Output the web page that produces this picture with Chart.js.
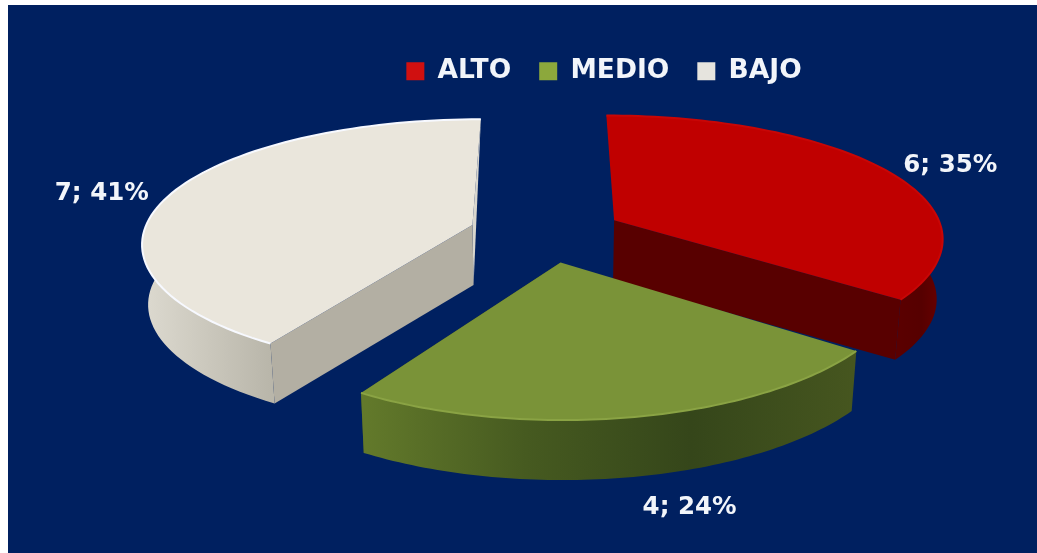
<!DOCTYPE html>
<html>
<head>
<meta charset="utf-8">
<title>Nivel</title>
<script src="https://cdn.jsdelivr.net/npm/chart.js@4/dist/chart.umd.min.js"></script>
<style>
    html, body { margin: 0; padding: 0; background: #fff; }
    #wrap { position: absolute; left: 8px; top: 5px; width: 1029px; height: 548px; background: #002060; overflow: hidden; }
    #pieChart { filter: blur(0.6px); }
</style>
</head>
<body>
<div id="wrap"><canvas id="pieChart"></canvas></div>
<script>
// Chart data
const categories = ['ALTO', 'MEDIO', 'BAJO'];
const values = [6, 4, 7];
const topColors = ['#C00000', '#7A9338', '#EAE6DC'];
const edgeColors = ['#C80606', '#8AA344', '#F7F9FF'];
const faceColors = ['#580000', '#3F5020', '#B3AFA3'];
const wallStops = [
    ['#5A0000', '#560000', '#6A0000'],
    ['#637A2B', '#465A20', '#35461A', '#46561F'],
    ['#DDDAD0', '#B9B6AA']
];

// Fake 3D view of the flat pie (Chart.js has no 3D mode)
const CENTER_X = 538;
const CENTER_Y = 228;
const STRETCH_X = 329;
const STRETCH_Y = 124;
const PERSPECTIVE_X = 0.13;
const PERSPECTIVE_Y = 0.15;
const DEPTH = 60;
const LABEL_SHIFT = [[65, -4], [55, 91], [-70, 1]];

function project(px, py, radius) {
    const u = px / radius;
    const v = py / radius;
    return {
        x: CENTER_X + STRETCH_X * u / (1 - PERSPECTIVE_X * v),
        y: CENTER_Y + STRETCH_Y * v / (1 - PERSPECTIVE_Y * v)
    };
}

function lower(p) {
    return { x: CENTER_X + (p.x - CENTER_X) * 0.985, y: p.y + DEPTH };
}

function fillPoly(ctx, pts, style) {
    ctx.beginPath();
    pts.forEach((p, i) => (i ? ctx.lineTo(p.x, p.y) : ctx.moveTo(p.x, p.y)));
    ctx.closePath();
    ctx.fillStyle = style;
    ctx.fill();
}

function sliceGeometry(arc) {
    const radius = arc.outerRadius;
    const mid = (arc.startAngle + arc.endAngle) / 2;
    const explode = (arc.options.offset || 0) / 4;
    const ox = Math.cos(mid) * explode;
    const oy = Math.sin(mid) * explode;
    const rim = [];
    const steps = 80;
    for (let i = 0; i <= steps; i++) {
        const a = arc.startAngle + (arc.endAngle - arc.startAngle) * i / steps;
        rim.push(project(ox + radius * Math.cos(a), oy + radius * Math.sin(a), radius));
    }
    return {
        apex: project(ox, oy, radius),
        rim: rim,
        label: project(ox + radius * Math.cos(mid), oy + radius * Math.sin(mid), radius)
    };
}

const pie3d = {
    id: 'pie3d',
    beforeDatasetsDraw(chart) {
        const ctx = chart.ctx;
        const arcs = chart.getDatasetMeta(0).data;

        // back to front: BAJO, ALTO, MEDIO
        [2, 0, 1].forEach((i) => {
            const g = sliceGeometry(arcs[i]);
            const first = g.rim[0];
            const last = g.rim[g.rim.length - 1];

            if (i === 2) {
                // thin sliver of the 12 o'clock face, then the long cut face
                fillPoly(ctx, [last, g.apex, lower(g.apex)], '#D8D6CE');
                fillPoly(ctx, [g.apex, first, lower(first), lower(g.apex)], faceColors[i]);
            } else {
                fillPoly(ctx, [g.apex, last, lower(last), lower(g.apex)], faceColors[i]);
            }

            // only the part of the rim wall facing the viewer
            const front = g.rim.filter(p => p.y > g.apex.y - 20);
            const xs = front.map(p => p.x);
            const grad = ctx.createLinearGradient(Math.min(...xs), 0, Math.max(...xs), 0);
            wallStops[i].forEach((c, k) => grad.addColorStop(k / (wallStops[i].length - 1), c));
            fillPoly(ctx, front.concat(front.map(lower).reverse()), grad);

            fillPoly(ctx, [g.apex].concat(g.rim), topColors[i]);

            ctx.beginPath();
            g.rim.forEach((p, k) => (k ? ctx.lineTo(p.x, p.y) : ctx.moveTo(p.x, p.y)));
            ctx.strokeStyle = edgeColors[i];
            ctx.lineWidth = 2;
            ctx.stroke();
        });

        // value labels
        const total = values.reduce((a, b) => a + b, 0);
        ctx.font = 'bold 24.5px "DejaVu Sans"';
        ctx.fillStyle = '#F2F5FA';
        ctx.textAlign = 'center';
        ctx.textBaseline = 'middle';
        values.forEach((v, i) => {
            const g = sliceGeometry(arcs[i]);
            const pct = Math.round(v / total * 100);
            ctx.fillText(`${v}; ${pct}%`, g.label.x + LABEL_SHIFT[i][0], g.label.y + LABEL_SHIFT[i][1]);
        });

        return false; // slices are painted above
    }
};

new Chart(document.getElementById('pieChart'), {
    type: 'pie',
    data: {
        labels: categories,
        datasets: [{
            data: values,
            backgroundColor: ['#D01010', '#8CA83C', '#E6E4DE'],
            borderWidth: 0,
            offset: 150
        }]
    },
    options: {
        responsive: true,
        maintainAspectRatio: false,
        animation: false,
        radius: 160,
        layout: { padding: { left: 163, top: 25, bottom: 100 } },
        plugins: {
            tooltip: { enabled: false },
            legend: {
                position: 'top',
                labels: {
                    color: '#F2F5FA',
                    boxWidth: 18,
                    boxHeight: 18,
                    padding: 28,
                    font: { family: '"DejaVu Sans"', size: 26.5, weight: 'bold' }
                }
            }
        }
    },
    plugins: [pie3d]
});
</script>
</body>
</html>
